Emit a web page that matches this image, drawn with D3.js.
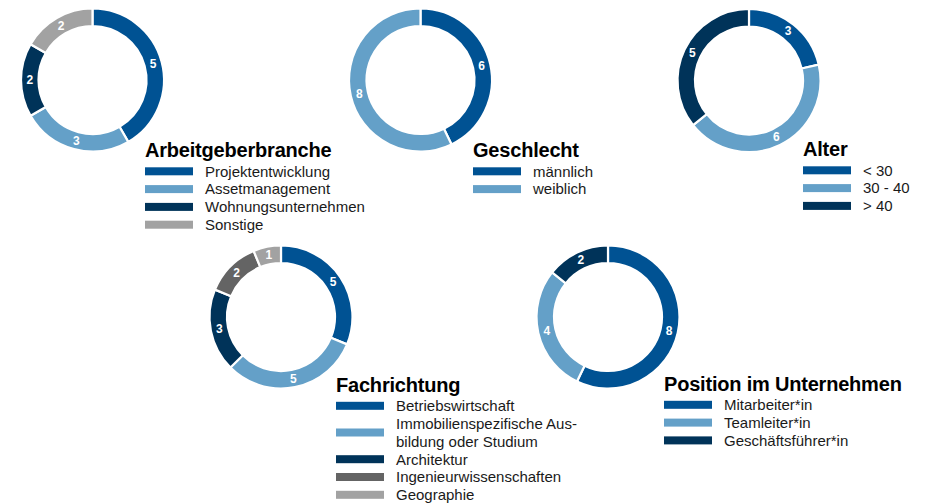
<!DOCTYPE html>
<html>
<head>
<meta charset="utf-8">
<script src="https://cdn.jsdelivr.net/npm/d3@7"></script>
<style>
  html, body { margin: 0; padding: 0; background: #ffffff; }
  svg { display: block; font-family: "Liberation Sans", Arial, Helvetica, sans-serif; }
</style>
</head>
<body>
<svg id="chart" width="926" height="503"></svg>
<script>
// ---- Data ----
const branchenTitle = "Arbeitgeberbranche";
const branchenLabels = ["Projektentwicklung", "Assetmanagement", "Wohnungsunternehmen", "Sonstige"];
const branchenValues = [5, 3, 2, 2];

const geschlechtTitle = "Geschlecht";
const geschlechtLabels = ["männlich", "weiblich"];
const geschlechtValues = [6, 8];

const alterTitle = "Alter";
const alterLabels = ["< 30", "30 - 40", "> 40"];
const alterValues = [3, 6, 5];

const fachTitle = "Fachrichtung";
const fachLabels = ["Betriebswirtschaft", "Immobilienspezifische Aus-\nbildung oder Studium", "Architektur", "Ingenieurwissenschaften", "Geographie"];
const fachValues = [5, 5, 3, 2, 1];

const positionTitle = "Position im Unternehmen";
const positionLabels = ["Mitarbeiter*in", "Teamleiter*in", "Geschäftsführer*in"];
const positionValues = [8, 4, 2];

// ---- Styles ----
const blue = "#005293", lightBlue = "#64a0c8", darkBlue = "#003359", darkGray = "#646464", lightGray = "#a2a2a2";
const branchenColors = [blue, lightBlue, darkBlue, lightGray];
const geschlechtColors = [blue, lightBlue];
const alterColors = [blue, lightBlue, darkBlue];
const fachColors = [blue, lightBlue, darkBlue, darkGray, lightGray];
const positionColors = [blue, lightBlue, darkBlue];

// ---- Layout ----
const panels = [
  { title: branchenTitle, labels: branchenLabels, values: branchenValues, colors: branchenColors, cx: 92.5, cy: 80, lx: 145, ly: 157 },
  { title: geschlechtTitle, labels: geschlechtLabels, values: geschlechtValues, colors: geschlechtColors, cx: 420.5, cy: 80, lx: 473, ly: 157 },
  { title: alterTitle, labels: alterLabels, values: alterValues, colors: alterColors, cx: 749, cy: 80.5, lx: 803, ly: 156 },
  { title: fachTitle, labels: fachLabels, values: fachValues, colors: fachColors, cx: 281, cy: 317, lx: 336, ly: 391.5 },
  { title: positionTitle, labels: positionLabels, values: positionValues, colors: positionColors, cx: 608, cy: 317, lx: 664, ly: 390.5 }
];

const outerR = 71.5, innerR = 54;
const lineH = 17.8;
const svg = d3.select("#chart");

const pie = d3.pie().sort(null).value(d => d).startAngle(0).endAngle(2 * Math.PI);
const arc = d3.arc().innerRadius(innerR).outerRadius(outerR);

panels.forEach(p => {
  const color = d3.scaleOrdinal().domain(d3.range(p.values.length)).range(p.colors);
  const g = svg.append("g").attr("transform", `translate(${p.cx},${p.cy})`);
  const arcs = pie(p.values);
  g.selectAll("path").data(arcs).join("path")
    .attr("d", arc)
    .attr("fill", (d, i) => color(i))
    .attr("stroke", "#ffffff")
    .attr("stroke-width", 2.2);
  g.selectAll("text").data(arcs).join("text")
    .attr("transform", d => `translate(${arc.centroid(d)})`)
    .attr("text-anchor", "middle")
    .attr("dominant-baseline", "central")
    .attr("fill", "#ffffff")
    .attr("font-weight", "bold")
    .attr("font-size", 12)
    .text(d => d.data);

  // Legend
  const lg = svg.append("g").attr("transform", `translate(${p.lx},${p.ly})`);
  lg.append("text")
    .attr("x", 0).attr("y", 0)
    .attr("font-size", 20)
    .attr("font-weight", "bold")
    .attr("fill", "#000000")
    .attr("letter-spacing", -0.2)
    .text(p.title);

  let line = 0;
  p.labels.forEach((lab, i) => {
    const parts = lab.split("\n");
    const firstCenter = 14.3 + line * lineH;
    const swatchCenter = firstCenter + (parts.length - 1) * lineH / 2;
    lg.append("rect")
      .attr("x", 0).attr("y", swatchCenter - 4)
      .attr("width", 48).attr("height", 8)
      .attr("fill", color(i));
    const t = lg.append("text")
      .attr("font-size", 15)
      .attr("fill", "#1a1a1a");
    parts.forEach((part, k) => {
      t.append("tspan")
        .attr("x", 60)
        .attr("y", firstCenter + k * lineH + 5.3)
        .text(part);
    });
    line += parts.length;
  });
});
</script>
</body>
</html>
